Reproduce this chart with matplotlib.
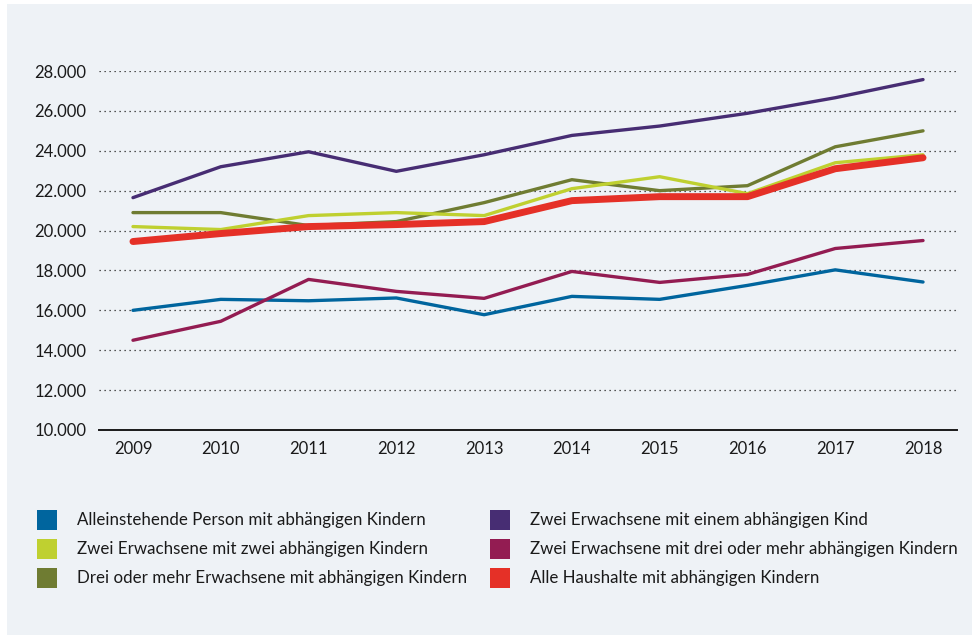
import matplotlib.pyplot as plt
from matplotlib.patches import Rectangle
from matplotlib.ticker import FuncFormatter

# data
years = [2009, 2010, 2011, 2012, 2013, 2014, 2015, 2016, 2017, 2018]

allein = [16000, 16550, 16480, 16620, 15780, 16700, 16550, 17250, 18030, 17420]
zwei_zwei = [20200, 20050, 20750, 20900, 20750, 22100, 22700, 21850, 23400, 23800]
drei_mehr_erw = [20900, 20900, 20250, 20450, 21400, 22550, 22000, 22250, 24200, 25000]
zwei_ein = [21650, 23200, 23950, 22970, 23800, 24770, 25240, 25880, 26660, 27570]
zwei_drei = [14500, 15450, 17550, 16950, 16600, 17950, 17400, 17800, 19100, 19500]
alle = [19450, 19850, 20200, 20300, 20450, 21500, 21700, 21700, 23100, 23650]

labels = [
    "Alleinstehende Person mit abhängigen Kindern",
    "Zwei Erwachsene mit zwei abhängigen Kindern",
    "Drei oder mehr Erwachsene mit abhängigen Kindern",
    "Zwei Erwachsene mit einem abhängigen Kind",
    "Zwei Erwachsene mit drei oder mehr abhängigen Kindern",
    "Alle Haushalte mit abhängigen Kindern",
]
colors = ["#00659e", "#bfd030", "#6f7c32", "#472d73", "#931c52", "#e53027"]
series = [allein, zwei_zwei, drei_mehr_erw, zwei_ein, zwei_drei, alle]

plt.rcParams['font.family'] = ['Lato', 'DejaVu Sans']
bg = "#eef2f6"

fig = plt.figure(figsize=(9.72, 6.35), dpi=100)
fig.patch.set_facecolor("white")
fig.patches.append(Rectangle((7 / 972, 0), 1, 1 - 4 / 635, transform=fig.transFigure,
                             facecolor=bg, edgecolor="none", zorder=-10))

ax = fig.add_axes([99 / 972, 1 - 430 / 635, (957 - 99) / 972, (430 - 71) / 635])
ax.set_facecolor(bg)
ax.patch.set_alpha(0)

# draw thin lines first, the total on top
order = [0, 4, 2, 1, 3, 5]
for i in order:
    lw = 5.0 if i == 5 else 2.4
    ax.plot(years, series[i], color=colors[i], lw=lw, solid_capstyle="round",
            clip_on=False, zorder=3 + (i == 5))

ax.set_xlim(2008.613, 2018.387)
ax.set_ylim(10000, 28000)
ax.set_xticks(years)
ax.set_yticks(range(10000, 28001, 2000))
ax.yaxis.set_major_formatter(FuncFormatter(lambda v, p: f"{int(v):,}".replace(",", ".")))
ax.grid(axis="y", linestyle=(0, (1, 3)), color="#222222", lw=0.9)
ax.set_axisbelow(True)
for s in ["top", "right", "left"]:
    ax.spines[s].set_visible(False)
ax.spines["bottom"].set_color("#1a1a1a")
ax.spines["bottom"].set_linewidth(1.4)
ax.tick_params(axis="both", length=0, labelsize=12, colors="#1a1a1a")
ax.tick_params(axis="y", pad=9)
ax.tick_params(axis="x", pad=8)

# legend built by hand, two columns of three
col_x = [37, 490]
text_x = [77, 530]
row_y = [520, 549, 578]
for i, lab in enumerate(labels):
    c, r = divmod(i, 3)
    x0 = col_x[c] / 972
    y0 = 1 - (row_y[r] + 10) / 635
    fig.patches.append(Rectangle((x0, y0), 20 / 972, 20 / 635, transform=fig.transFigure,
                                 facecolor=colors[i], edgecolor="none"))
    fig.text(text_x[c] / 972, 1 - row_y[r] / 635, lab, fontsize=12.2,
             color="#1a1a1a", va="center", ha="left")

fig.savefig("out.png", dpi=100, facecolor=fig.get_facecolor())
